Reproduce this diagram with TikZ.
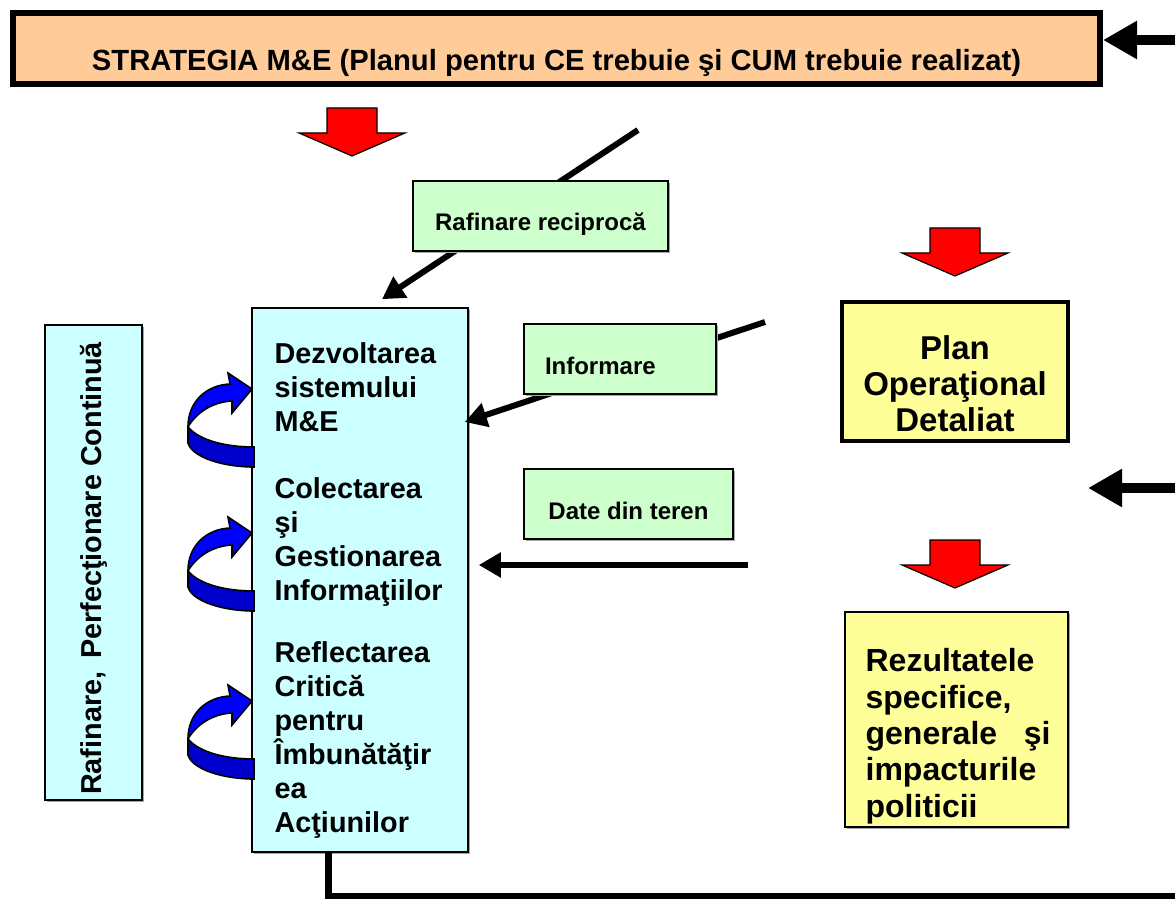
\documentclass[tikz,border=0pt]{standalone}
\usepackage{fontspec}
\setmainfont{Liberation Sans}
\usetikzlibrary{arrows.meta,shadows,calc}

\definecolor{strategyfill}{RGB}{255,204,153}
\definecolor{stagefill}{RGB}{204,255,255}
\definecolor{notefill}{RGB}{204,255,204}
\definecolor{planfill}{RGB}{255,255,153}

\newcommand{\mefont}{\fontsize{14.4}{17}\selectfont\bfseries}
\newcommand{\notefont}{\fontsize{12}{14}\selectfont\bfseries}
\newcommand{\planfont}{\fontsize{16.5}{18}\selectfont\bfseries}

\tikzset{
  box/.style={rectangle, draw=black, line width=0.8pt, inner sep=0pt},
  shadowed/.style={drop shadow={shadow xshift=1pt, shadow yshift=-1pt, fill=gray!70, opacity=1}},
  notebox/.style={box, fill=notefill, shadowed, minimum height=35pt, text height=18pt, text depth=3pt, font=\notefont},
  stagetext/.style={inner sep=0pt, align=left, font=\mefont},
  bigarrow/.style={line width=5pt, -{Triangle[length=17pt, width=18pt]}},
  midarrow/.style={line width=3pt, -{Triangle[length=11pt, width=12pt]}},
  redarrow/.pic={
    \draw[fill=red, line width=0.6pt] (-25,0) -- (25,0) -- (25,25) -- (53,25)
      -- (0,48) -- (-53,25) -- (-25,25) -- cycle;
  },
  twistarrow/.pic={
    % lower band of the ribbon
    \draw[fill=blue!80!black, line width=0.8pt] (-64,38) .. controls (-52,52) and (-25,58) .. (2,58)
      -- (2,78) .. controls (-30,78) and (-60,68) .. (-64,54) -- cycle;
    % upper band with head
    \draw[fill=blue, line width=0.8pt] (-64,38) .. controls (-64,12) and (-45,-4) .. (-22,-5)
      -- (-24,-16) -- (0,0) -- (-20,24) -- (-20,12)
      .. controls (-40,13) and (-56,24) .. (-64,38) -- cycle;
  }
}

\begin{document}
\begin{tikzpicture}[x=0.5pt, y=-0.5pt]
\useasboundingbox (0,0) rectangle (1175,899);

% strategy bar on top
\node[box, line width=3pt, fill=strategyfill, minimum width=543.5pt, minimum height=35.5pt,
      text height=25pt, text depth=3pt, font=\fontsize{14.6}{17}\selectfont\bfseries] (strategy) at (556.5,48.5)
      {STRATEGIA M\&E (Planul pentru CE trebuie şi CUM trebuie realizat)};
\coordinate (topin) at (1175,40);
\draw[bigarrow] (topin) -- (topin -| strategy.east);

% red block arrows
\pic at (352,108) {redarrow};
\pic at (955,228) {redarrow};
\pic at (955,540) {redarrow};

% left column
\node[box, rotate=90, fill=stagefill, shadowed, minimum width=237.5pt, minimum height=48.5pt,
      font=\mefont] (refine) at (93.5,562.5) {Rafinare,\ \,Perfecţionare Continuă\hspace*{6pt}};

% the M&E stages
\node[box, fill=stagefill, shadowed, minimum width=108pt, minimum height=272pt] (mebox) at (360,580) {};
\node[stagetext, anchor=north west] (design) at ([shift={(23,35)}]mebox.north west)
      {Dezvoltarea\\sistemului\\M\&E};
\node[stagetext, anchor=north west] (collect) at ([shift={(23,170)}]mebox.north west)
      {Colectarea\\şi\\Gestionarea\\Informaţiilor};
\node[stagetext, anchor=north west] (reflect) at ([shift={(23,334)}]mebox.north west)
      {Reflectarea\\Critică\\pentru\\Îmbunătăţir\\ea\\Acţiunilor};

\pic at (252,389) {twistarrow};
\pic at (252,533) {twistarrow};
\pic at (252,701) {twistarrow};

% inputs to the stages
\coordinate (mutualin) at (638,130);
\coordinate (infoin) at (765,322);
\coordinate (fieldin) at (748,565);
\draw[midarrow] (mutualin) -- ([shift={(22,-8)}]mebox.north);
\draw[midarrow] (infoin) -- ([shift={(-4,-158)}]mebox.east);
\draw[midarrow, line width=2.6pt] (fieldin) -- ([shift={(10,-15)}]mebox.east);

\node[notebox, minimum width=127.5pt] (mutual) at (540.5,216) {Rafinare reciprocă};
\node[notebox, minimum width=96pt, text width=85pt, align=left] (info) at (620,359) {\hspace*{5pt}Informare};
\node[notebox, minimum width=104.5pt] (field) at (628.5,504) {Date din teren};

% right column
\node[box, line width=2pt, fill=planfill, shadowed, minimum width=113pt, minimum height=69.5pt,
      align=center, font=\planfont] (plan) at (955,371.5) {\rule{0pt}{24pt}Plan\\Operaţional\\Detaliat};
\coordinate (sidein) at (1175,488);
\coordinate (sidetip) at (1088,488);
\draw[bigarrow] (sidein) -- (sidetip);

\node[box, fill=planfill, shadowed, minimum width=111.5pt, minimum height=107.5pt] (result) at (956.5,719.5) {};
\node[inner sep=0pt, align=left, font=\fontsize{16}{18.2}\selectfont\bfseries, anchor=north west] (resulttext)
      at ([shift={(21,37)}]result.north west)
      {Rezultatele\\specifice,\\generale\ \ \ şi\\impacturile\\politicii};

% feedback loop
\coordinate (loopend) at (1175,896);
\draw[line width=3.5pt] ([xshift=-16pt]mebox.south) |- (loopend);
\end{tikzpicture}
\end{document}
